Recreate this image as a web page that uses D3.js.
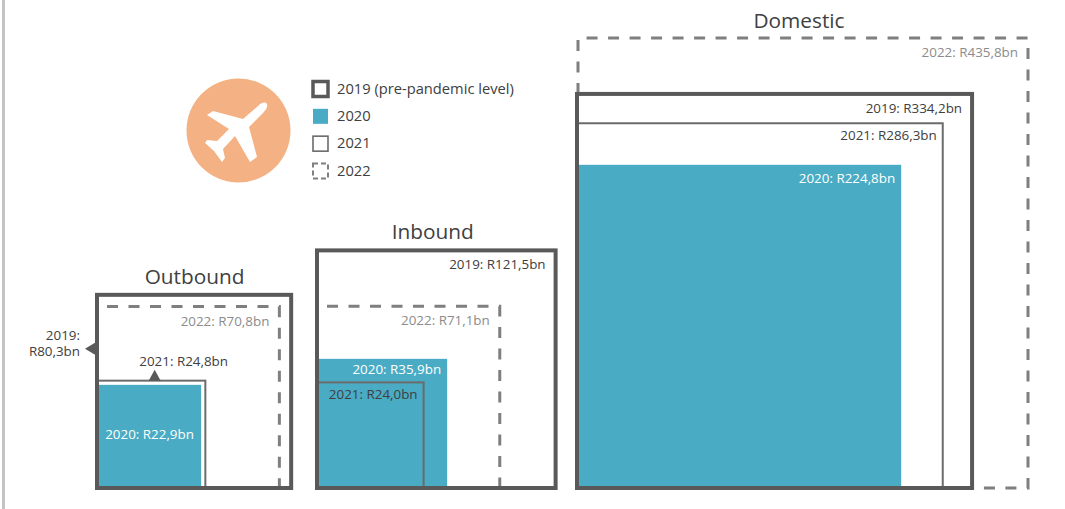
<!DOCTYPE html>
<html>
<head>
<meta charset="utf-8">
<script src="https://cdn.jsdelivr.net/npm/d3@7"></script>
<style>
  html, body { margin: 0; padding: 0; background: #fff; }
  text { font-family: "Open Sans", "Noto Sans", sans-serif; }
</style>
</head>
<body>
<div id="chart"></div>
<script>
const markets = ["Outbound", "Inbound", "Domestic"];
const values2019 = [80.3, 121.5, 334.2];
const values2020 = [22.9, 35.9, 224.8];
const values2021 = [24.8, 24.0, 286.3];
const values2022 = [70.8, 71.1, 435.8];
const legendLabels = ["2019 (pre-pandemic level)", "2020", "2021", "2022"];

const width = 1065, height = 509;
const baseline = 488;
const lefts = [98, 318, 578];

const dark = "#595959", thin = "#6b6b6b", mid = "#7f7f7f", teal = "#4aabc4", orange = "#f4b183";

const svg = d3.select("#chart").append("svg")
    .attr("width", width)
    .attr("height", height)
    .style("display", "block");

// the grey rule down the left of the page
svg.append("rect").attr("x", 2).attr("y", 0).attr("width", 3).attr("height", height).attr("fill", "#c4c4c4");

// squares: area follows the value, so the side goes with the root
const side = d3.scaleSqrt().domain([0, 435.8]).range([0, 450]);

const money = v => "R" + d3.format(".1f")(v).replace(".", ",") + "bn";

function label(x, y, str, color, anchor) {
    svg.append("text")
        .attr("x", x).attr("y", y)
        .attr("text-anchor", anchor || "end")
        .attr("font-size", 13.4)
        .attr("fill", color)
        .text(str);
}

// only the part of the 2022 outline that is not covered by the 2019 frame
function dashedSquare(sel, x, s, s19) {
    const top = baseline - s;
    const p = s > s19
        ? `M${x},${baseline - s19}V${top}H${x + s}V${baseline}H${x + s19}`
        : `M${x + 9},${top}H${x + s}V${baseline}`;
    sel.append("path")
        .attr("d", p)
        .attr("fill", "none")
        .attr("stroke", mid)
        .attr("stroke-width", 3)
        .attr("stroke-dasharray", "11 10.5");
}

markets.forEach((name, i) => {
    const x = lefts[i];
    const g = svg.append("g");
    const s19 = side(values2019[i]), s20 = side(values2020[i]),
          s21 = side(values2021[i]), s22 = side(values2022[i]);

    dashedSquare(g, x, s22, s19);

    g.append("rect")
        .attr("x", x).attr("y", baseline - s20)
        .attr("width", s20).attr("height", s20)
        .attr("fill", teal);

    g.append("rect")
        .attr("x", x).attr("y", baseline - s21)
        .attr("width", s21).attr("height", s21)
        .attr("fill", "none")
        .attr("stroke", thin)
        .attr("stroke-width", 2);

    g.append("rect")
        .attr("x", x - 1).attr("y", baseline - s19)
        .attr("width", s19 + 1).attr("height", s19)
        .attr("fill", "none")
        .attr("stroke", dark)
        .attr("stroke-width", 4);

    const tallest = name === "Domestic" ? s22 : s19;
    svg.append("text")
        .attr("x", x + tallest / 2 - (name === "Outbound" ? 0 : 4))
        .attr("y", baseline - tallest - (name === "Domestic" ? 10 : 11))
        .attr("text-anchor", "middle")
        .attr("font-size", 20.8)
        .attr("fill", "#404040")
        .text(name);

    label(x + s22 - 10, baseline - s22 + 19, "2022: " + money(values2022[i]), "#8c8c8c");

    if (name === "Outbound") {
        // no room inside the small squares, so these sit outside with pointers
        const yMid = baseline - s19 + 54;
        label(x - 18, yMid - 9, "2019:", "#404040");
        label(x - 18, yMid + 7, money(values2019[i]), "#404040");
        svg.append("path")
            .attr("d", `M${x - 3},${yMid - 6}L${x - 13},${yMid}L${x - 3},${yMid + 6}Z`)
            .attr("fill", dark);
        const tx = x + s21 / 2 + 3, ty = baseline - s21;
        svg.append("path")
            .attr("d", `M${tx - 6},${ty}L${tx},${ty - 11}L${tx + 6},${ty}Z`)
            .attr("fill", dark);
        label(tx + 29, ty - 15, "2021: " + money(values2021[i]), "#404040", "middle");
        label(x + s20 / 2, baseline - s20 / 2 + 3, "2020: " + money(values2020[i]), "#ffffff", "middle");
    } else {
        label(x + s19 - 10, baseline - s19 + 19, "2019: " + money(values2019[i]), "#404040");
        label(x + s21 - 6, baseline - s21 + 17, "2021: " + money(values2021[i]), "#404040");
        label(x + s20 - 6, baseline - s20 + (name === "Inbound" ? 15 : 18), "2020: " + money(values2020[i]), "#ffffff");
    }
});

// plane badge
svg.append("circle").attr("cx", 238.5).attr("cy", 130.5).attr("r", 52).attr("fill", orange);
svg.append("path")
    .attr("d", "M267,104C268,107 266,110 263,113L249,127L257,157L250,162L235,136L223,149L225,158L222,162L214,151L205,143L207,140L217,141L229,129L207,115L213,111L243,119L258,106C261,103 265,101 267,104Z")
    .attr("fill", "#ffffff");

// legend
const legendY = d3.scalePoint().domain(legendLabels).range([88.5, 170.5]);
const legend = svg.append("g");
legendLabels.forEach((t, i) => {
    const y = legendY(t);
    const box = legend.append("rect").attr("x", 313).attr("y", y - 7).attr("width", 15).attr("height", 15);
    if (i === 0) box.attr("fill", "none").attr("stroke", dark).attr("stroke-width", 3.5);
    if (i === 1) box.attr("fill", teal);
    if (i === 2) box.attr("fill", "none").attr("stroke", thin).attr("stroke-width", 1.6);
    if (i === 3) box.attr("fill", "none").attr("stroke", mid).attr("stroke-width", 2).attr("stroke-dasharray", "5 3");
    legend.append("text")
        .attr("x", 337).attr("y", y + 5)
        .attr("font-size", 14.7)
        .attr("fill", "#404040")
        .text(t);
});
</script>
</body>
</html>
